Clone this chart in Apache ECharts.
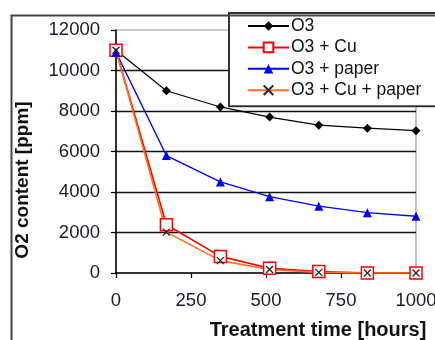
<!DOCTYPE html>
<html><head><meta charset="utf-8">
<script src="https://cdn.jsdelivr.net/npm/echarts@6/dist/echarts.min.js"></script>
<style>html,body{margin:0;padding:0;background:#fff}#c{width:435px;height:340px}</style>
</head><body><div id="c"></div>
<script>
const hours = [0, 168, 348, 512, 676, 838, 1000];
const o3 = [11000, 9000, 8200, 7700, 7300, 7150, 7030];
const o3Cu = [11000, 2380, 820, 230, 70, 0, 0];
const o3Paper = [10900, 5800, 4500, 3770, 3300, 2980, 2800];
const o3CuPaper = [11000, 2020, 610, 170, 30, 0, 0];
const seriesNames = ['O3', 'O3 + Cu', 'O3 + paper', 'O3 + Cu + paper'];
const yTicks = [0, 2000, 4000, 6000, 8000, 10000, 12000];
const xTicks = [0, 250, 500, 750, 1000];
const xTitle = 'Treatment time [hours]';
const yTitle = 'O2 content [ppm]';

const pair = (ys) => hours.map((h, i) => [h, ys[i]]);
const FONT = '"Liberation Sans", Arial, sans-serif';

const chart = echarts.init(document.getElementById('c'), null, {renderer: 'canvas'});
chart.setOption({
  animation: false,
  backgroundColor: '#fff',
  grid: {left: 116, top: 30, right: 19, bottom: 67, containLabel: false, outerBoundsMode: 'none',
         show: true, borderColor: '#999', borderWidth: 1.2, backgroundColor: 'transparent'},
  xAxis: {
    type: 'value', min: xTicks[0], max: xTicks[xTicks.length - 1], interval: 250,
    axisLine: {lineStyle: {color: '#000', width: 1.5}},
    axisTick: {show: true, length: 5, lineStyle: {color: '#000', width: 1.2}},
    axisLabel: {fontFamily: FONT, fontSize: 18.5, color: '#1a1a2a', margin: 18, showMaxLabel: true, formatter: (v) => String(v)},
    splitLine: {show: false}
  },
  yAxis: {
    type: 'value', min: yTicks[0], max: yTicks[yTicks.length - 1], interval: 2000,
    axisLine: {show: true, lineStyle: {color: '#000', width: 1.5}},
    axisTick: {show: true, length: 5, lineStyle: {color: '#000', width: 1.2}},
    axisLabel: {fontFamily: FONT, fontSize: 18.5, color: '#1a1a2a', margin: 16, formatter: (v) => String(v)},
    splitLine: {show: true, showMaxLine: false, showMinLine: false, lineStyle: {color: '#111', width: 1.3}}
  },
  legend: {
    orient: 'vertical', left: 229, top: 13,
    padding: [4, 40, 7, 18],
    itemWidth: 41, itemHeight: 12, itemGap: 3.4,
    backgroundColor: '#fff', borderColor: '#333', borderWidth: 2, borderRadius: 0,
    textStyle: {fontFamily: FONT, fontSize: 17.5, color: '#111', padding: [0, 0, 0, -3]},
    data: seriesNames
  },
  graphic: [
    {type: 'rect', left: 9, top: 13, shape: {width: 520, height: 400}, style: {fill: 'none', stroke: '#444', lineWidth: 2}, z: 100, silent: true},
    {type: 'text', x: 318, y: 330, style: {text: xTitle, font: 'bold 20px ' + FONT, fill: '#111', align: 'center', verticalAlign: 'middle'}},
    {type: 'text', x: 23, y: 180, rotation: Math.PI / 2, style: {text: yTitle, font: 'bold 19px ' + FONT, fill: '#111', align: 'center', verticalAlign: 'middle'}}
  ],
  series: [
    {name: seriesNames[0], type: 'line', data: pair(o3), symbol: 'diamond', symbolSize: 9,
     itemStyle: {color: '#000'}, lineStyle: {color: '#000', width: 1.2}},
    {name: seriesNames[1], type: 'line', data: pair(o3Cu), symbol: 'rect', symbolSize: 12,
     itemStyle: {color: '#fff', borderColor: '#ff0000', borderWidth: 1.5}, lineStyle: {color: '#ff0000', width: 1.6}},
    {name: seriesNames[2], type: 'line', data: pair(o3Paper), symbol: 'triangle', symbolSize: 9,
     itemStyle: {color: '#0000ff'}, lineStyle: {color: '#0000ff', width: 1.4}},
    {name: seriesNames[3], type: 'line', data: pair(o3CuPaper), symbol: 'path://M0,0L10,10M10,0L0,10', symbolSize: 7, symbolKeepAspect: true,
     itemStyle: {color: 'none', borderColor: '#222', borderWidth: 1.3}, lineStyle: {color: '#ff7020', width: 1.6}}
  ]
});
</script></body></html>
